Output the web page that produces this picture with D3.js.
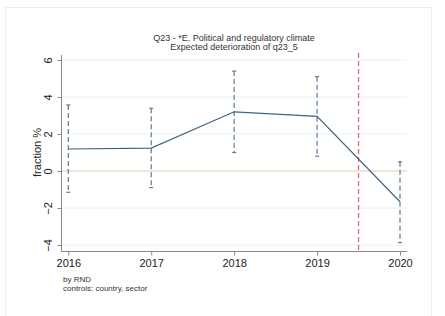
<!DOCTYPE html>
<html><head><meta charset="utf-8">
<script src="https://cdn.jsdelivr.net/npm/d3@7"></script>
<style>body{margin:0;background:#fff}svg{display:block}text{font-family:"Liberation Sans",Arial,sans-serif}</style>
</head><body><svg id="c" width="445" height="316"></svg>
<script>
const years = [2016, 2017, 2018, 2019, 2020];
const estimate = [1.19, 1.24, 3.2, 2.95, -1.66];
const ciLow = [-1.15, -0.9, 1.0, 0.8, -3.87];
const ciHigh = [3.57, 3.39, 5.4, 5.1, 0.5];
const yTicks = [6, 4, 2, 0, -2, -4];
const cutoff = 2019.5;
const titleLines = ["Q23 - *E. Political and regulatory climate", "Expected deterioration of q23_5"];
const notes = ["by RND", "controls: country, sector"];

const svg = d3.select("#c");
svg.append("rect").attr("x",5.5).attr("y",7.5).attr("width",426).attr("height",310).attr("fill","#fff").attr("stroke","#eeeeee");

const x = d3.scaleLinear().domain([2016, 2020]).range([68.3, 400]);
const y = d3.scaleLinear().domain([-4, 6]).range([245, 60]);
const pL = 61.5, pR = 407, pB = 251.5, pT = 55;

// grid
svg.append("g").selectAll("line").data(yTicks).join("line")
  .attr("x1", pL).attr("x2", pR).attr("y1", d=>y(d)).attr("y2", d=>y(d))
  .attr("stroke", d=> d===0 ? "#d8d2a8" : "#eaf0f0").attr("stroke-width", d=> d===0 ? 1.2 : 1);

// y axis
const ya = svg.append("g").attr("transform",`translate(${pL},0)`)
  .call(d3.axisLeft(y).tickValues(yTicks).tickSize(4).tickSizeOuter(0).tickFormat(d3.format("d")));
ya.select(".domain").attr("d", `M0,${pT}V${pB}`).attr("stroke","#888");
ya.selectAll(".tick line").attr("stroke","#888");
ya.selectAll(".tick text").attr("transform","rotate(-90)").attr("x",0).attr("y",-10).attr("dy","0")
  .attr("text-anchor","middle").attr("font-size",11).attr("fill","#222");

// x axis
const xa = svg.append("g").attr("transform",`translate(0,${pB})`)
  .call(d3.axisBottom(x).tickValues(years).tickSize(4).tickSizeOuter(0).tickFormat(d3.format("d")));
xa.select(".domain").attr("d", `M${pL},0H${pR}`).attr("stroke","#888");
xa.selectAll(".tick line").attr("stroke","#888");
xa.selectAll(".tick text").attr("font-size",11).attr("fill","#222").attr("y",8);

// cutoff line
svg.append("line").attr("x1",x(cutoff)).attr("x2",x(cutoff)).attr("y1",pT-2).attr("y2",pB)
  .attr("stroke","#e8607e").attr("stroke-width",1.3).attr("stroke-dasharray","5,3");

// CIs
const ci = svg.append("g").attr("stroke","#5a7a98").attr("stroke-width",1.2);
years.forEach((yr,i)=>{
  ci.append("line").attr("x1",x(yr)).attr("x2",x(yr)).attr("y1",y(ciHigh[i])).attr("y2",y(ciLow[i])).attr("stroke-dasharray","5,3");
  ci.append("line").attr("x1",x(yr)-2).attr("x2",x(yr)+2).attr("y1",y(ciHigh[i])).attr("y2",y(ciHigh[i]));
  ci.append("line").attr("x1",x(yr)-2).attr("x2",x(yr)+2).attr("y1",y(ciLow[i])).attr("y2",y(ciLow[i]));
});

// estimate line
svg.append("path").datum(years.map((yr,i)=>[yr, estimate[i]]))
  .attr("d", d3.line().x(d=>x(d[0])).y(d=>y(d[1])))
  .attr("fill","none").attr("stroke","#3f6283").attr("stroke-width",1.2);

// title
svg.append("g").selectAll("text").data(titleLines).join("text")
  .attr("x",234).attr("y",(d,i)=>41+i*8.5).attr("text-anchor","middle")
  .attr("font-size",9).attr("fill","#333").text(d=>d);

// y title
svg.append("text").attr("transform",`translate(41,152.5) rotate(-90)`).attr("text-anchor","middle")
  .attr("font-size",11).attr("fill","#222").text("fraction %");

// notes
svg.append("g").selectAll("text").data(notes).join("text")
  .attr("x",63).attr("y",(d,i)=>282+i*8.5).attr("font-size",8).attr("fill","#333").text(d=>d);
</script></body></html>
